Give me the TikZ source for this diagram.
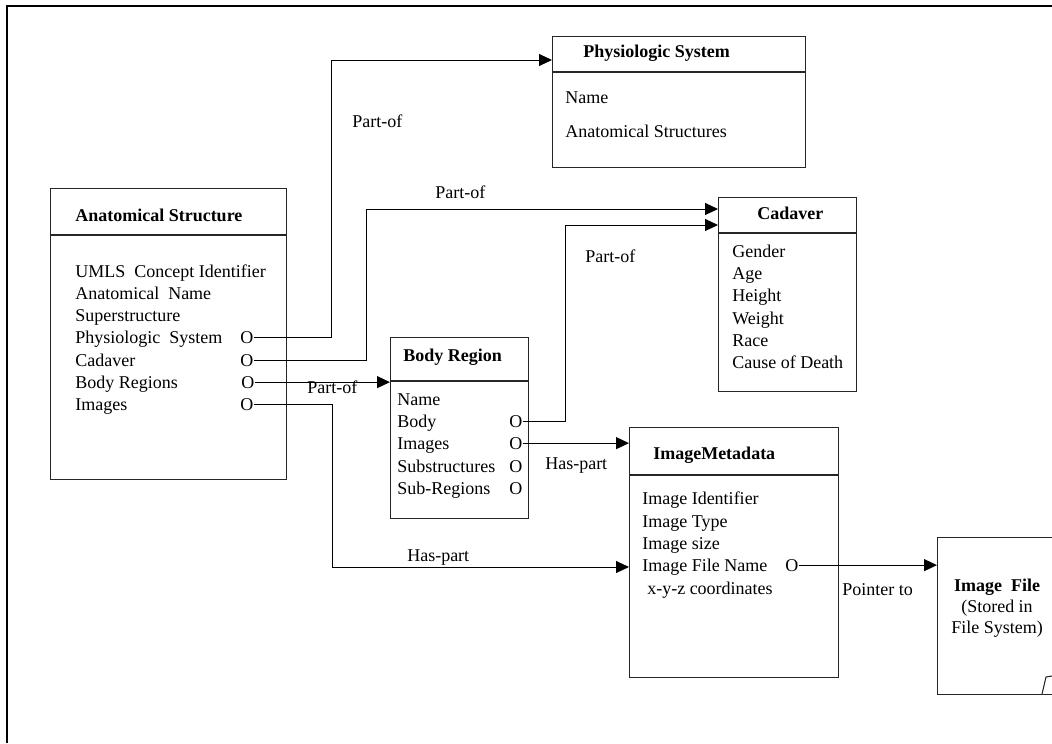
\documentclass[tikz,border=0pt]{standalone}
\usepackage{fontspec}
\setmainfont{Liberation Serif}
\usetikzlibrary{arrows.meta}
\begin{document}
\begin{tikzpicture}[x=0.75pt,y=-0.75pt,
  txt/.style={anchor=base west, inner sep=0pt, font=\fontsize{13.5}{16}\selectfont},
  ttl/.style={txt, font=\fontsize{13.5}{16}\selectfont\bfseries},
  cls/.style={draw=black!85, line width=0.8pt, inner sep=0pt, anchor=north west},
  hdr/.style={draw=black!85, line width=0.8pt},
  conn/.style={draw, line width=0.75pt},
  arr/.style={conn, -{Triangle[length=9.75pt,width=9pt]}}]
\useasboundingbox (0,0) rectangle (1052,743);
\clip (0,0) rectangle (1052,743);
% frame
\draw[line width=1.6pt] (7,743) -- (7,6) -- (1052,6);

% Anatomical Structure
\node[cls, minimum width=177pt, minimum height=218.25pt] (as) at (50,188) {};
\draw[hdr] (as.west |- 0,235) -- (as.east |- 0,235);
\node[ttl] (asT) at (75,221) {Anatomical Structure};
\node[txt] (as1) at (75,277) {UMLS\ \ Concept Identifier};
\node[txt] (as2) at (75,299) {Anatomical\ \ Name};
\node[txt] (as3) at (75,321) {Superstructure};
\node[txt] (as4) at (75,343) {Physiologic\ \ System};
\node[txt] (as5) at (75,366) {Cadaver};
\node[txt] (as6) at (75,388) {Body Regions};
\node[txt] (as7) at (75,410) {Images};
\node[txt] (o1) at (240,343) {O};
\node[txt] (o2) at (240,366) {O};
\node[txt] (o3) at (241,388) {O};
\node[txt] (o4) at (240,410) {O};

% Physiologic System
\node[cls, minimum width=189.75pt, minimum height=98.25pt] (ps) at (552,36) {};
\draw[hdr] (ps.west |- 0,72) -- (ps.east |- 0,72);
\node[ttl] (psT) at (583,57) {Physiologic System};
\node[txt] (ps1) at (565,103) {Name};
\node[txt] (ps2) at (565,137) {Anatomical Structures};

% Cadaver
\node[cls, minimum width=103.5pt, minimum height=145.5pt] (cad) at (718,197) {};
\draw[hdr] (cad.west |- 0,233) -- (cad.east |- 0,233);
\node[ttl] (cadT) at (757,219) {Cadaver};
\node[txt] (c1) at (732,257) {Gender};
\node[txt] (c2) at (732,279) {Age};
\node[txt] (c3) at (732,301) {Height};
\node[txt] (c4) at (732,324) {Weight};
\node[txt] (c5) at (732,346) {Race};
\node[txt] (c6) at (732,368) {Cause of Death};

% Body Region
\node[cls, minimum width=103.5pt, minimum height=135.75pt] (br) at (390,337) {};
\draw[hdr] (br.west |- 0,381) -- (br.east |- 0,381);
\node[ttl] (brT) at (403,361) {Body Region};
\node[txt] (br1) at (397,405) {Name};
\node[txt] (br2) at (397,427) {Body};
\node[txt] (br3) at (397,449) {Images};
\node[txt] (br4) at (397,472) {Substructures};
\node[txt] (br5) at (397,494) {Sub-Regions};
\node[txt] (b1) at (509,427) {O};
\node[txt] (b2) at (509,449) {O};
\node[txt] (b3) at (509,472) {O};
\node[txt] (b4) at (509,494) {O};

% Image Metadata
\node[cls, minimum width=156.75pt, minimum height=187.5pt] (im) at (629,427) {};
\draw[hdr] (im.west |- 0,475) -- (im.east |- 0,475);
\node[ttl] (imT) at (653,459) {ImageMetadata};
\node[txt] (im1) at (642,504) {Image Identifier};
\node[txt] (im2) at (642,527) {Image Type};
\node[txt] (im3) at (642,549) {Image size};
\node[txt] (im4) at (642,571) {Image File Name};
\node[txt] (im5) at (647,594) {x-y-z coordinates};
\node[txt] (m1) at (785,571) {O};

% Image File
\node[cls, minimum width=97.5pt, minimum height=117.75pt] (if) at (937,537) {};
\node[inner sep=0pt, align=center, font=\fontsize{13.5}{15.75}\selectfont] (ifT) at (997,608)
  {\textbf{Image\ \ File}\\(Stored in\\File System)};
\draw[hdr] (1042,694) -- (1046,677) -- (1052,676);

% labels
\node[txt] (p1) at (352,127) {Part-of};
\node[txt] (p2) at (435,198) {Part-of};
\node[txt] (p3) at (585,262) {Part-of};
\node[txt] (p4) at (307,393) {Part-of};
\node[txt] (h1) at (545,469) {Has-part};
\node[txt] (h2) at (407,561) {Has-part};
\node[txt] (pt) at (842,595) {Pointer to};

% connectors
\draw[arr] (o1.east) -| (331,60) -- (ps.west |- 331,60);
\draw[arr] (o2.east) -| (366,209) -- (cad.west |- 366,209);
\draw[arr] (o3.east) -- (br.west |- o3.east);
\draw[arr] (o4.east) -| (332,567) -- (im.west |- 332,567);
\draw[arr] (b1.east) -| (565,225) -- (cad.west |- 565,225);
\draw[arr] (b2.east) -- (im.west |- b2.east);
\draw[arr] (m1.east) -- (if.west |- m1.east);
\end{tikzpicture}
\end{document}
